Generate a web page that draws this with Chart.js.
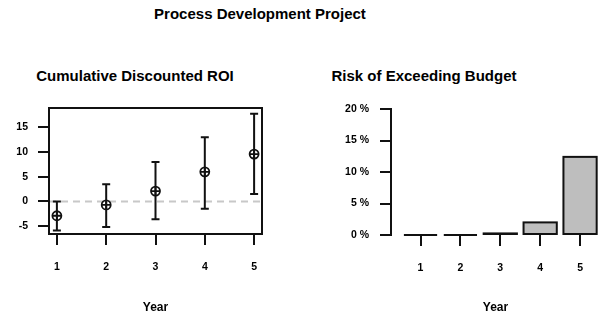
<!DOCTYPE html>
<html><head><meta charset="utf-8">
<script src="https://cdn.jsdelivr.net/npm/chart.js@4"></script>
<style>
html,body{margin:0;padding:0;background:#fff;width:604px;height:316px;overflow:hidden;font-family:"Liberation Sans",Arial,sans-serif;}
.t{position:absolute;font-weight:bold;font-size:15px;line-height:18px;white-space:nowrap;transform:translateX(-50%);color:#000}
#c1{position:absolute;left:0;top:0}
#c2{position:absolute;left:302px;top:0}
</style></head><body>
<div class="t" style="left:260px;top:5px">Process Development Project</div>
<div class="t" style="left:135px;top:67px">Cumulative Discounted ROI</div>
<div class="t" style="left:424px;top:67px">Risk of Exceeding Budget</div>
<canvas id="c1" width="302" height="316"></canvas>
<canvas id="c2" width="302" height="316"></canvas>
<script>
const years = [1, 2, 3, 4, 5];
const roiMean = [-2.9, -0.7, 2.1, 6.0, 9.6];
const roiLow = [-5.9, -5.2, -3.6, -1.5, 1.5];
const roiHigh = [0.0, 3.5, 8.0, 13.0, 17.8];
const roiTicks = [-5, 0, 5, 10, 15];
const riskPct = [0, 0, 0.25, 2.0, 12.4];
const riskTicks = [0, 5, 10, 15, 20];

const FAM = '"Liberation Sans", Arial, sans-serif';
const tickFont = {family: FAM, weight: 'bold', size: 10.5};
const titleFont = {family: FAM, weight: 'bold', size: 12};
const INK = '#111';

const boxPlugin = {
  id: 'box',
  afterDatasetsDraw(chart) {
    const {ctx, chartArea: a} = chart;
    ctx.save();
    ctx.strokeStyle = INK; ctx.lineWidth = 2;
    ctx.strokeRect(a.left, a.top, a.right - a.left, a.bottom - a.top);
    ctx.restore();
  }
};

const errPlugin = {
  id: 'err',
  beforeDatasetsDraw(chart) {
    const {ctx, chartArea: a, scales: {x, y}} = chart;
    ctx.save();
    ctx.strokeStyle = '#c8c8c8'; ctx.lineWidth = 2; ctx.setLineDash([7, 5]);
    const y0 = y.getPixelForValue(0);
    ctx.beginPath(); ctx.moveTo(a.left, y0); ctx.lineTo(a.right, y0); ctx.stroke();
    ctx.setLineDash([]);
    ctx.strokeStyle = INK; ctx.lineWidth = 2;
    years.forEach((v, i) => {
      const px = x.getPixelForValue(v);
      const lo = y.getPixelForValue(roiLow[i]);
      const hi = y.getPixelForValue(roiHigh[i]);
      ctx.beginPath();
      ctx.moveTo(px, lo); ctx.lineTo(px, hi);
      ctx.moveTo(px - 4, lo); ctx.lineTo(px + 4, lo);
      ctx.moveTo(px - 4, hi); ctx.lineTo(px + 4, hi);
      ctx.stroke();
    });
    ctx.restore();
  }
};

const outlinePlugin = {
  id: 'outline',
  afterDatasetsDraw(chart) {
    const {ctx} = chart;
    const meta = chart.getDatasetMeta(0);
    ctx.save();
    ctx.strokeStyle = INK; ctx.lineWidth = 2;
    meta.data.forEach(el => {
      const p = el.getProps(['x', 'y', 'base', 'width'], true);
      ctx.strokeRect(p.x - p.width / 2, p.y, p.width, p.base - p.y);
    });
    ctx.restore();
  }
};

const pts = years.map((x, i) => ({x, y: roiMean[i]}));

new Chart(document.getElementById('c1'), {
  type: 'scatter',
  data: {datasets: [
    {data: pts, pointStyle: 'circle', pointRadius: 4.5, borderColor: INK, borderWidth: 1.8, backgroundColor: 'rgba(0,0,0,0)'},
    {data: pts, pointStyle: 'cross', pointRadius: 4.5, borderColor: INK, borderWidth: 1.8}
  ]},
  options: {
    responsive: false, animation: false, events: [],
    layout: {padding: {top: 108, right: 40, left: 0, bottom: 0}},
    plugins: {legend: {display: false}, tooltip: {enabled: false}},
    scales: {
      x: {
        type: 'linear', min: 0.84, max: 5.16,
        afterBuildTicks: s => { s.ticks = years.map(v => ({value: v})); },
        afterFit: s => { s.height = 82; },
        grid: {drawOnChartArea: false, drawTicks: true, tickLength: 11, color: INK, lineWidth: 2},
        border: {display: false},
        ticks: {padding: 16, color: '#000', font: tickFont, autoSkip: false, maxRotation: 0},
        title: {display: true, text: 'Year', font: titleFont, color: '#000', padding: {top: 0, bottom: 1}}
      },
      y: {
        min: -6.6, max: 18.95,
        afterBuildTicks: s => { s.ticks = roiTicks.map(v => ({value: v})); },
        afterFit: s => { s.width = 49; },
        grid: {drawOnChartArea: false, drawTicks: true, tickLength: 11, color: INK, lineWidth: 2},
        border: {display: false},
        ticks: {padding: 10, color: '#000', font: tickFont}
      }
    }
  },
  plugins: [errPlugin, boxPlugin]
});

new Chart(document.getElementById('c2'), {
  type: 'bar',
  data: {datasets: [
    {data: years.map((x, i) => ({x, y: riskPct[i]})), backgroundColor: '#bebebe', borderWidth: 0,
     barPercentage: 1 / 1.2, categoryPercentage: 1}
  ]},
  options: {
    responsive: false, animation: false, events: [],
    layout: {padding: {top: 109, right: 4, left: 0, bottom: 0}},
    plugins: {legend: {display: false}, tooltip: {enabled: false}},
    scales: {
      x: {
        type: 'linear', offset: false, min: 0.26, max: 5.5,
        afterBuildTicks: s => { s.ticks = years.map(v => ({value: v})); },
        afterFit: s => { s.height = 81; },
        grid: {offset: false, drawOnChartArea: false, drawTicks: true, tickLength: 11, color: INK, lineWidth: 2},
        border: {display: false},
        ticks: {padding: 16, color: '#000', font: tickFont, autoSkip: false, maxRotation: 0},
        title: {display: true, text: 'Year', font: titleFont, color: '#000', padding: {top: 0, bottom: 1}}
      },
      y: {
        min: 0, max: 20,
        afterBuildTicks: s => { s.ticks = riskTicks.map(v => ({value: v})); },
        afterFit: s => { s.width = 89; },
        grid: {drawOnChartArea: false, drawTicks: true, tickLength: 11, color: INK, lineWidth: 2},
        border: {display: true, color: INK, width: 2},
        ticks: {padding: 11, color: '#000', font: tickFont, callback: v => v + ' %'}
      }
    }
  },
  plugins: [outlinePlugin]
});
</script>
</body></html>
